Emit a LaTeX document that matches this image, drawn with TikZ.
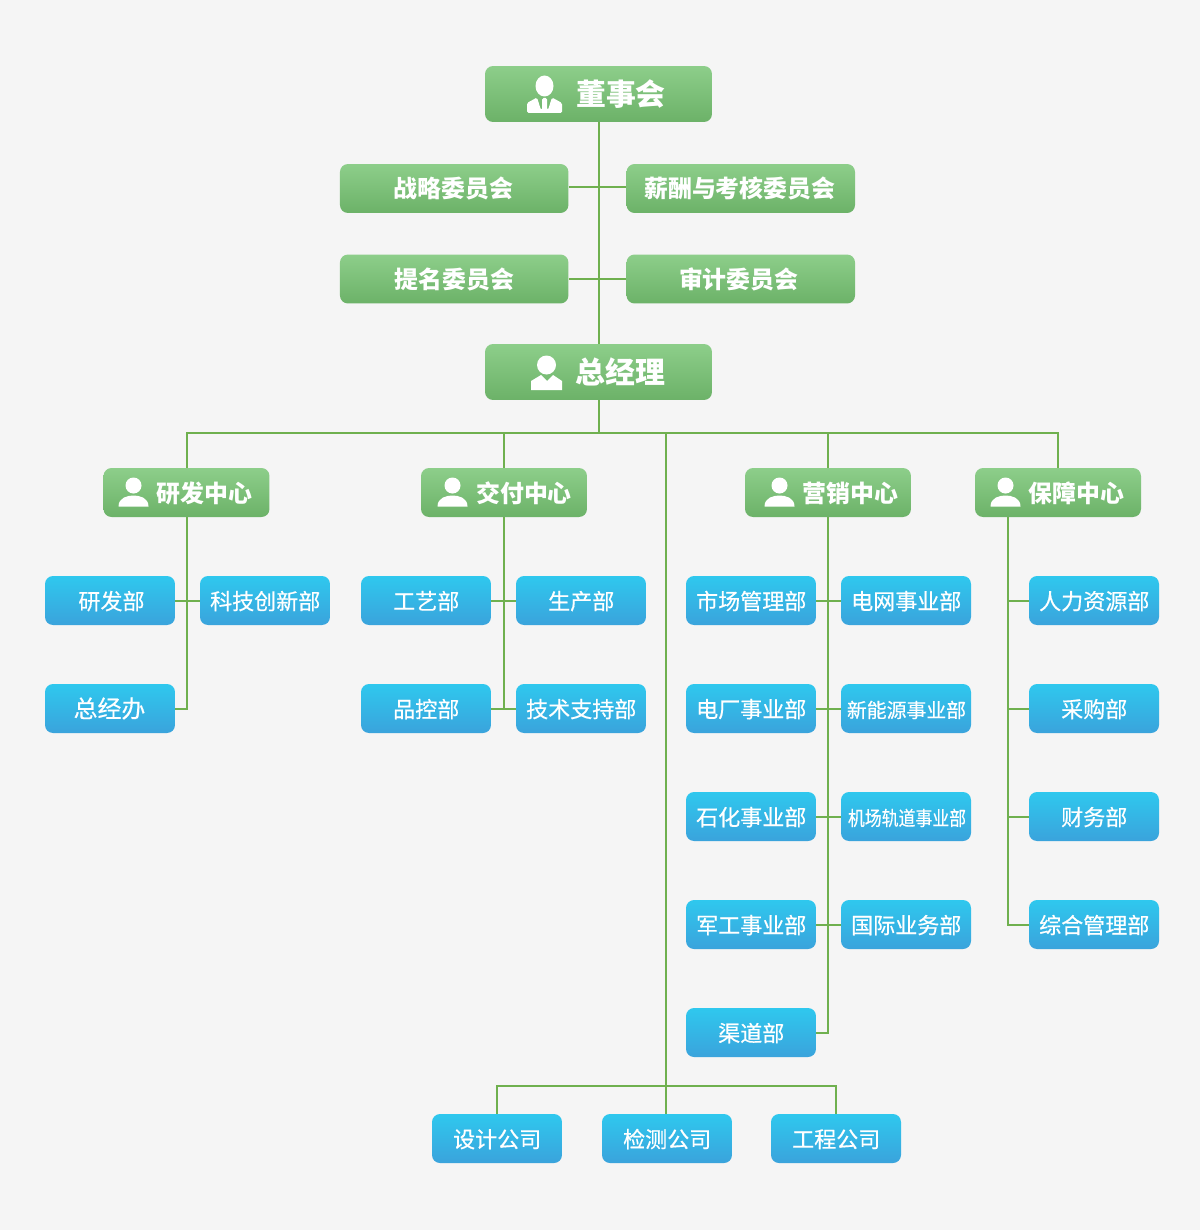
\documentclass[tikz,border=0pt]{standalone}
\usepackage{fontspec}
\usepackage{graphicx}
\setmainfont{Noto Sans CJK SC}
\newfontfamily\lightfont[FakeBold=0.5]{Noto Sans CJK SC}
\definecolor{pagebg}{HTML}{F5F5F5}
\definecolor{linkgreen}{HTML}{6FB04F}
\definecolor{greentop}{HTML}{8DCE8A}
\definecolor{greenbot}{HTML}{6CB268}
\definecolor{bluetop}{HTML}{2FC8EE}
\definecolor{bluebot}{HTML}{3AA3DC}
\tikzset{
    link/.style={draw=linkgreen,line width=0.04cm},
    greenbox/.style={rounded corners=0.16cm,top color=greentop,bottom color=greenbot,text=white,inner sep=0pt,text height=0.46cm,text depth=0.08cm},
    topbox/.style={greenbox,minimum width=4.54cm,minimum height=1.12cm,font=\bfseries\fontsize{17}{17}\selectfont,text height=0.56cm,text depth=0.1cm},
    commbox/.style={greenbox,minimum width=4.57cm,minimum height=0.98cm,font=\bfseries\fontsize{13.6}{14}\selectfont},
    centerbox/.style={greenbox,minimum width=3.32cm,minimum height=0.98cm,font=\bfseries\fontsize{13.6}{14}\selectfont},
    deptbox/.style={rounded corners=0.16cm,top color=bluetop,bottom color=bluebot,text=white,inner sep=0pt,text height=0.42cm,text depth=0.06cm,minimum width=2.6cm,minimum height=0.98cm,font=\lightfont\fontsize{12.55}{13}\selectfont}
}
% small person over the shoulders, head at (#1,#2)
\newcommand{\personicon}[2]{
    \fill[white,shift={(#1,#2)}] (-8,0) circle[radius=8];
    \fill[white,shift={(#1,#2)}] (-23,21) .. controls (-23,12) and (-14,10) .. (-8,10)
        .. controls (-2,10) and (7,12) .. (7,21) -- cycle;
}
\begin{document}
\begin{tikzpicture}[x=0.02cm,y=-0.02cm]
    \fill[pagebg] (0,0) rectangle (1200,1230);
    \useasboundingbox (0,0) rectangle (1200,1230);
    % top of the tree
    \node[topbox] (board) at (598.5,94) {\hspace*{0.9cm}董事会};
    \node[commbox] (strategy) at (454.2,188.5) {\hspace*{-0.04cm}战略委员会};
    \node[commbox] (salary) at (740.8,188.5) {\hspace*{-0.04cm}薪酬与考核委员会};
    \node[commbox] (nominate) at (454.2,279) {提名委员会};
    \node[commbox] (audit) at (740.8,279) {\hspace*{-0.08cm}审计委员会};
    \node[topbox] (manager) at (598.5,372) {\hspace*{0.88cm}总经理};
    \node[centerbox] (rdcenter) at (186.5,492.5) {\hspace*{0.72cm}研发中心};
    \node[centerbox] (delivery) at (504,492.5) {\hspace*{0.8cm}交付中心};
    \node[centerbox] (sales) at (828,492.5) {\hspace*{0.9cm}营销中心};
    \node[centerbox] (support) at (1058,492.5) {\hspace*{0.74cm}保障中心};
    % departments
    \foreach \name/\x/\y/\txt in {
        tech/265/600.5/科技创新部,
        craft/426/600.5/工艺部, prod/581/600.5/生产部, qc/426/708.5/品控部, service/581/708.5/技术支持部,
        market/751/600.5/市场管理部, grid/906/600.5/电网事业部, plant/751/708.5/电厂事业部,
        petro/751/816.5/石化事业部, army/751/924.5/军工事业部, world/906/924.5/国际业务部,
        channel/751/1032.5/渠道部,
        hr/1094/600.5/人力资源部, buy/1094/708.5/采购部, money/1094/816.5/财务部, admin/1094/924.5/综合管理部,
        design/497/1138.5/设计公司, test/667/1138.5/检测公司, build/836/1138.5/工程公司}{
        \node[deptbox] (\name) at (\x,\y) {\hspace*{0.01cm}\txt};
    }
    \node[deptbox] (rd) at (110,600.5) {\hspace*{0.06cm}研发部};
    \node[deptbox,font=\lightfont\fontsize{13.6}{14}\selectfont] (office) at (110,708.5) {\hspace*{-0.02cm}总经办};
    \node[deptbox,font=\lightfont\fontsize{11.3}{12}\selectfont] (energy) at (906,708.5) {\hspace*{0.02cm}新能源事业部};
    \node[deptbox,font=\lightfont\fontsize{11.3}{12}\selectfont] (airport) at (906,816.5) {\hspace*{0.04cm}\scalebox{0.85}[1]{机场轨道事业部}};
    % icons
    \fill[white] (544.5,86) ellipse[x radius=9,y radius=10.5];
    \fill[white,rounded corners=0.03cm] (527,113) -- (527,103) -- (537,97.5) -- (541,110) -- (542,110) -- (542,98) -- (547,98) -- (547,110) -- (548,110) -- (552,97.5) -- (562,103) -- (562,113) -- cycle;
    \fill[white] (546.5,365) circle[radius=9.5];
    \fill[white] (531,390) -- (531,381) -- (541,375) -- (547,381) -- (553,375) -- (562,381) -- (562,390) -- cycle;
    \foreach \x in {141.5,460.5,787.5,1013.5}{
        \personicon{\x}{485.5}
    }
    % connectors
    \coordinate (busleft) at (186.5,433);
    \coordinate (busright) at (1058,433);
    \coordinate (busmid) at (666,433);
    \coordinate (lowbus) at (666,1086);
    \coordinate (lowleft) at (497,1086);
    \coordinate (lowright) at (836,1086);
    \coordinate (supporttop) at (1008,517);
    \coordinate (supportend) at (1008,924.5);
    \coordinate (trunkone) at (598.5,187);
    \draw[link] (board.south) -- (manager.north);
    \draw[link] (strategy.east |- trunkone) -- (salary.west |- trunkone);
    \draw[link] (nominate.east) -- (audit.west);
    \draw[link] (manager.south) -- (manager.south |- busleft);
    \draw[link] (rdcenter.north) -- (busleft) -- (busright) -- (support.north);
    \draw[link] (delivery.north) -- (delivery.north |- busleft);
    \draw[link] (sales.north) -- (sales.north |- busleft);
    \draw[link] (busmid) -- (lowbus);
    \draw[link] (design.north) -- (lowleft) -- (lowright) -- (build.north);
    \draw[link] (lowbus) -- (test.north -| lowbus);
    \draw[link] (rdcenter.south) -- (rdcenter.south |- office) -- (office.east);
    \draw[link] (rd.east) -- (tech.west);
    \draw[link] (delivery.south) -- (delivery.south |- qc);
    \draw[link] (craft.east) -- (prod.west);
    \draw[link] (qc.east) -- (service.west);
    \draw[link] (sales.south) -- (sales.south |- channel) -- (channel.east);
    \foreach \a/\b in {market/grid,plant/energy,petro/airport,army/world}{
        \draw[link] (\a.east) -- (\b.west);
    }
    \draw[link] (supporttop) -- (supportend) -- (admin.west);
    \foreach \b in {hr,buy,money}{
        \draw[link] (\b.west) -- (\b.west -| supporttop);
    }
\end{tikzpicture}
\end{document}
